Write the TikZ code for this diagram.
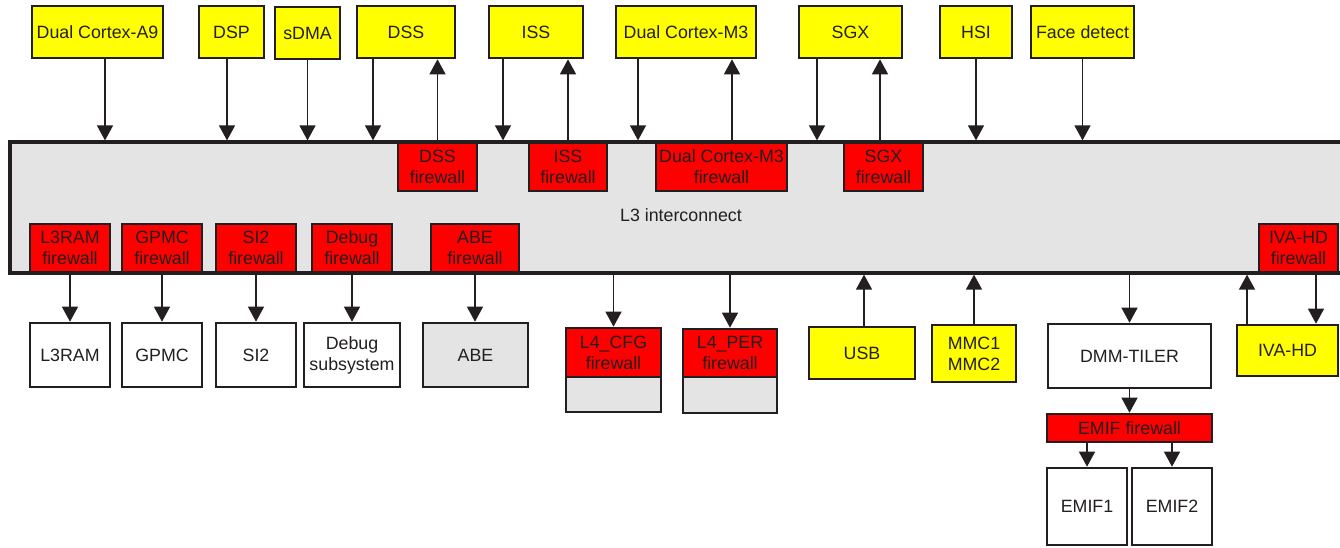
\documentclass[tikz,border=0pt]{standalone}
\usepackage{fontspec}
\setmainfont{Liberation Sans}
\usetikzlibrary{arrows.meta}

\definecolor{ink}{HTML}{231F20}
\definecolor{ipyellow}{HTML}{FFFF00}
\definecolor{fwred}{HTML}{FF0000}
\definecolor{l3gray}{HTML}{E4E4E4}

\begin{document}
\begin{tikzpicture}[
    x=1pt, y=-1pt, % 1 unit = 1 pixel of the layout, y grows downwards
    >={Triangle[width=16pt,length=15pt]}, % Filled arrow heads
    blk/.style={draw=ink, line width=2.6pt, inner sep=0pt, text=ink, align=center,
        font=\fontsize{17.8}{21}\selectfont}, % Common block look
    sz/.style 2 args={minimum width=#1pt, minimum height=#2pt}, % Block size
    master/.style={blk, fill=ipyellow}, % Initiators
    fw/.style={blk, fill=fwred}, % Firewalls
    slave/.style={blk, fill=white}, % Targets
    link/.style={->, draw=ink, line width=1.3pt} % Connectors
]

    \useasboundingbox (0,0) rectangle (1340,547);

    % L3 interconnect
    \node[blk, fill=l3gray, line width=3.2pt, sz={1340}{131}] (bar) at (680,207.5) {};
    \node[text=ink, font=\fontsize{17.8}{21}\selectfont] (l3) at (681,215) {L3 interconnect};

    % Initiators on top
    \node[master, sz={131}{52}] (a9) at (97.5,32) {Dual Cortex-A9};
    \node[master, sz={65}{52}] (dsp) at (231.5,32) {DSP};
    \node[master, sz={65}{52}] (sdma) at (307.5,33) {sDMA};
    \node[master, sz={98}{52}] (dss) at (406,32) {DSS};
    \node[master, sz={94}{52}] (iss) at (536,32) {ISS};
    \node[master, sz={140}{52}] (m3) at (686,32) {Dual Cortex-M3};
    \node[master, sz={103}{52}] (sgx) at (850.5,32) {SGX};
    \node[master, sz={72}{52}] (hsi) at (976,32) {HSI};
    \node[master, sz={103}{52}] (face) at (1082.5,32) {Face detect};

    % Firewalls along the top edge
    \node[fw, sz={79}{48}] (dssfw) at (437.5,167) {DSS\\firewall};
    \node[fw, sz={78}{48}] (issfw) at (568,167) {ISS\\firewall};
    \node[fw, sz={131}{48}] (m3fw) at (721.5,167) {Dual Cortex-M3\\firewall};
    \node[fw, sz={79}{48}] (sgxfw) at (883.5,167) {SGX\\firewall};

    % Firewalls along the bottom edge
    \node[fw, sz={80}{48}] (l3ramfw) at (70,248) {L3RAM\\firewall};
    \node[fw, sz={80}{48}] (gpmcfw) at (162,248) {GPMC\\firewall};
    \node[fw, sz={80}{48}] (si2fw) at (256,248) {SI2\\firewall};
    \node[fw, sz={80}{48}] (dbgfw) at (352,248) {Debug\\firewall};
    \node[fw, sz={88}{48}] (abefw) at (475,248) {ABE\\firewall};
    \node[fw, sz={79}{48}] (ivafw) at (1298.5,248) {IVA-HD\\firewall};

    % Targets below
    \node[slave, sz={80}{64}] (l3ram) at (70,355) {L3RAM};
    \node[slave, sz={80}{64}] (gpmc) at (162,355) {GPMC};
    \node[slave, sz={80}{64}] (si2) at (256,355) {SI2};
    \node[slave, sz={96}{64}] (dbg) at (352,355) {Debug\\subsystem};
    \node[blk, fill=l3gray, sz={105}{64}] (abe) at (475.5,355) {ABE};
    \node[fw, sz={95}{49}] (cfgfw) at (613.5,352.5) {L4\_CFG\\firewall};
    \node[blk, fill=l3gray, sz={95}{35}] (cfg) at (613.5,394.5) {};
    \node[fw, sz={94}{48}] (perfw) at (730,353) {L4\_PER\\firewall};
    \node[blk, fill=l3gray, sz={94}{36}] (per) at (730,395) {};
    \node[master, sz={106}{52}] (usb) at (862,353) {USB};
    \node[master, sz={84}{57}] (mmc) at (974,353.5) {MMC1\\MMC2};
    \node[slave, sz={163}{64}] (dmm) at (1129.5,356) {DMM-TILER};
    \node[master, sz={101}{51}] (iva) at (1287.5,350.5) {IVA-HD};
    \node[fw, sz={165}{28}] (emiffw) at (1129.5,428) {EMIF firewall};
    \node[slave, sz={80}{77}] (emif1) at (1087,506.5) {EMIF1};
    \node[slave, sz={80}{77}] (emif2) at (1172,506.5) {EMIF2};

    % Initiator paths into the interconnect
    \draw[link] ([xshift=7.5pt]a9.south) -- ([xshift=7.5pt]a9.south |- bar.north);
    \draw[link] ([xshift=-4.5pt]dsp.south) -- ([xshift=-4.5pt]dsp.south |- bar.north);
    \draw[link] (sdma.south) -- (sdma.south |- bar.north);
    \draw[link] ([xshift=-33pt]dss.south) -- ([xshift=-33pt]dss.south |- bar.north);
    \draw[link] ([xshift=-33pt]iss.south) -- ([xshift=-33pt]iss.south |- bar.north);
    \draw[link] ([xshift=-48pt]m3.south) -- ([xshift=-48pt]m3.south |- bar.north);
    \draw[link] ([xshift=-33.5pt]sgx.south) -- ([xshift=-33.5pt]sgx.south |- bar.north);
    \draw[link] (hsi.south) -- (hsi.south |- bar.north);
    \draw[link] (face.south) -- (face.south |- bar.north);

    % Target ports of initiators
    \draw[link] (dssfw.north) -- (dssfw.north |- dss.south);
    \draw[link] (issfw.north) -- (issfw.north |- iss.south);
    \draw[link] ([xshift=10.5pt]m3fw.north) -- ([xshift=10.5pt]m3fw.north |- m3.south);
    \draw[link] ([xshift=-3.5pt]sgxfw.north) -- ([xshift=-3.5pt]sgxfw.north |- sgx.south);

    % Paths out to targets
    \draw[link] (l3ramfw.south) -- (l3ram.north);
    \draw[link] (gpmcfw.south) -- (gpmc.north);
    \draw[link] (si2fw.south) -- (si2.north);
    \draw[link] (dbgfw.south) -- (dbg.north);
    \draw[link] (abefw.south) -- (abefw.south |- abe.north);
    \draw[link] (cfgfw.north |- bar.south) -- (cfgfw.north);
    \draw[link] (perfw.north |- bar.south) -- (perfw.north);
    \draw[link] (dmm.north |- bar.south) -- (dmm.north);
    \draw[link] ([xshift=17.5pt]ivafw.south) -- ([xshift=17.5pt]ivafw.south |- iva.north);

    % Bottom initiators
    \draw[link] ([xshift=2pt]usb.north) -- ([xshift=2pt]usb.north |- bar.south);
    \draw[link] (mmc.north) -- (mmc.north |- bar.south);
    \draw[link] ([xshift=-40.5pt]iva.north) -- ([xshift=-40.5pt]iva.north |- bar.south);

    % Memory path
    \draw[link] (dmm.south) -- (emiffw.north);
    \draw[link] (emiffw.south -| emif1.north) -- (emif1.north);
    \draw[link] (emiffw.south -| emif2.north) -- (emif2.north);

\end{tikzpicture}
\end{document}
